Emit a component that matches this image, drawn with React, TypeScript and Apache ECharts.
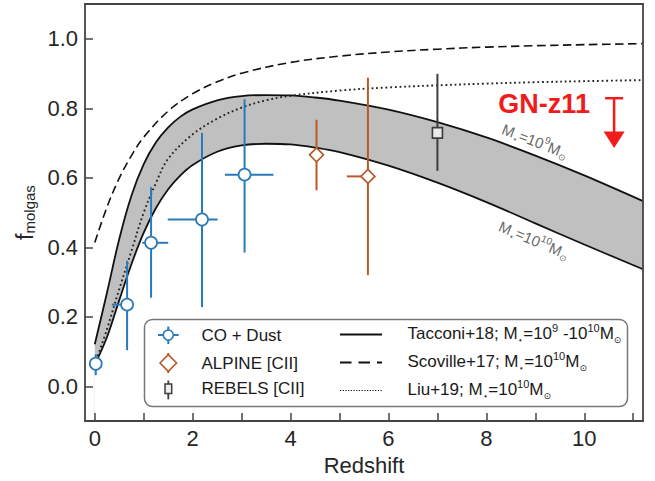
import React, { useEffect, useRef } from "react";
import * as echarts from "echarts";

// ---------- data ----------
const tacconiZ = [0, 0.25, 0.5, 0.75, 1, 1.25, 1.5, 1.75, 2, 2.5, 3, 3.5, 4, 4.5, 5, 6, 7, 8, 9, 10, 11.2];
const tacconiHigh = [0.121, 0.27, 0.424, 0.549, 0.639, 0.702, 0.745, 0.776, 0.797, 0.823, 0.835, 0.838, 0.837, 0.831, 0.822, 0.796, 0.76, 0.716, 0.664, 0.607, 0.533];
const tacconiLow = [0.062, 0.142, 0.248, 0.352, 0.442, 0.513, 0.567, 0.607, 0.637, 0.675, 0.693, 0.698, 0.696, 0.687, 0.674, 0.635, 0.586, 0.53, 0.469, 0.408, 0.337];

const scovilleZ = [0, 0.25, 0.5, 0.75, 1, 1.5, 2, 2.5, 3, 4, 5, 6, 7, 8, 9, 10, 11.2];
const scovilleF = [0.414, 0.516, 0.599, 0.664, 0.717, 0.792, 0.842, 0.876, 0.901, 0.932, 0.95, 0.962, 0.97, 0.976, 0.98, 0.983, 0.986];

const liuZ = [0.03, 0.25, 0.5, 0.75, 1, 1.25, 1.5, 2, 2.5, 3, 3.5, 4, 5, 6, 7, 8, 9, 10, 11.2];
const liuF = [0.075, 0.165, 0.28, 0.39, 0.5, 0.585, 0.655, 0.725, 0.77, 0.802, 0.823, 0.836, 0.851, 0.86, 0.866, 0.871, 0.875, 0.878, 0.881];

const coZ = [0.02, 0.66, 1.15, 2.19, 3.06];
const coF = [0.065, 0.235, 0.413, 0.48, 0.609];
const coZLo = [0.02, 0.35, 0.97, 1.49, 2.66];
const coZHi = [0.02, 0.75, 1.5, 2.51, 3.65];
const coFLo = [0.032, 0.104, 0.255, 0.228, 0.385];
const coFHi = [0.092, 0.361, 0.573, 0.729, 0.826];

const alpineZ = [4.53, 5.58];
const alpineF = [0.666, 0.604];
const alpineZLo = [4.53, 5.15];
const alpineZHi = [4.53, 5.7];
const alpineFLo = [0.564, 0.32];
const alpineFHi = [0.767, 0.888];

const rebelsZ = [7.0];
const rebelsF = [0.729];
const rebelsFLo = [0.62];
const rebelsFHi = [0.899];

// GN-z11 upper limit: [z, top of limit bar, arrow tip]
const gnz11 = [[10.61, 0.829, 0.686]];
const gnz11Label = [9.18, 0.813];

const xTickValues = [0, 1, 2, 3, 4, 5, 6, 7, 8, 9, 10, 11];
const xLabelValues = [0, 2, 4, 6, 8, 10];
const yTickValues = [0, 0.2, 0.4, 0.6, 0.8, 1.0];

// ---------- styles ----------
const FONT = '"Liberation Sans", Arial, Helvetica, sans-serif';
const BLUE = "#2a7ab9";
const ORANGE = "#b65a2b";
const GRAY = "#3d3d3d";
const RED = "#f01c1c";
const BAND = "#c0c0c0";
const FRAME = "#444444";

const pairs = (xs: number[], ys: number[]) => xs.map((x, i) => [x, ys[i]]);

function errorSeries(
  name: string, zs: number[], fs: number[], zlo: number[], zhi: number[],
  flo: number[], fhi: number[], color: string
) {
  return {
    type: "custom",
    name,
    z: 4,
    clip: true,
    silent: true,
    data: zs.map((z, i) => [z, fs[i], zlo[i], zhi[i], flo[i], fhi[i]]),
    encode: { x: [0, 2, 3], y: [1, 4, 5] },
    renderItem: (_p: any, api: any) => {
      const x = api.value(0);
      const y = api.value(1);
      const a = api.coord([x, api.value(4)]);
      const b = api.coord([x, api.value(5)]);
      const children: any[] = [
        { type: "line", shape: { x1: a[0], y1: a[1], x2: b[0], y2: b[1] }, style: { stroke: color, lineWidth: 2 } },
      ];
      if (api.value(3) > api.value(2)) {
        const c = api.coord([api.value(2), y]);
        const d = api.coord([api.value(3), y]);
        children.push({ type: "line", shape: { x1: c[0], y1: c[1], x2: d[0], y2: d[1] }, style: { stroke: color, lineWidth: 2 } });
      }
      return { type: "group", children };
    },
  };
}

const legendRich = {
  t: { fontSize: 17, fontFamily: FONT, fill: "#1a1a1a", lineHeight: 22 },
  p: { fontSize: 11, fontFamily: FONT, fill: "#1a1a1a", lineHeight: 11, verticalAlign: "top" },
  s: { fontSize: 9, fontFamily: "DejaVu Sans", fill: "#1a1a1a", lineHeight: 10, verticalAlign: "bottom" },
};
const curveRich = {
  m: { fontSize: 15, fontFamily: FONT, fill: "#6a6a6a", lineHeight: 20 },
  p: { fontSize: 10, fontFamily: FONT, fill: "#6a6a6a", lineHeight: 10, verticalAlign: "top" },
  s: { fontSize: 9, fontFamily: "DejaVu Sans", fill: "#6a6a6a", lineHeight: 9, verticalAlign: "bottom" },
};

const LZ = 100;
const legendElements: any[] = [
  { type: "rect", z: LZ, shape: { x: 144.5, y: 319.5, width: 483, height: 87, r: 8 }, style: { fill: "#ffffff", stroke: "#777777", lineWidth: 1.5 } },
  // CO + Dust
  { type: "line", z: LZ + 1, shape: { x1: 158, y1: 335, x2: 178.6, y2: 335 }, style: { stroke: BLUE, lineWidth: 2 } },
  { type: "line", z: LZ + 1, shape: { x1: 168.3, y1: 326.5, x2: 168.3, y2: 344 }, style: { stroke: BLUE, lineWidth: 2 } },
  { type: "circle", z: LZ + 2, shape: { cx: 168.3, cy: 335, r: 5 }, style: { fill: "#fff", stroke: BLUE, lineWidth: 1.6 } },
  // ALPINE
  { type: "line", z: LZ + 1, shape: { x1: 168.3, y1: 353, x2: 168.3, y2: 373 }, style: { stroke: ORANGE, lineWidth: 2 } },
  { type: "polygon", z: LZ + 2, shape: { points: [[160, 363], [168.3, 354.7], [176.6, 363], [168.3, 371.3]] }, style: { fill: "#fff", stroke: ORANGE, lineWidth: 1.6 } },
  // REBELS
  { type: "line", z: LZ + 1, shape: { x1: 168.3, y1: 380.5, x2: 168.3, y2: 399.3 }, style: { stroke: GRAY, lineWidth: 1.8 } },
  { type: "rect", z: LZ + 2, shape: { x: 165, y: 384, width: 6.7, height: 9.5 }, style: { fill: "#eeeeee", stroke: GRAY, lineWidth: 1.5 } },
  // texts left
  { type: "text", z: LZ + 1, x: 201.5, y: 335, style: { text: "CO + Dust", fontSize: 17, fontFamily: FONT, fill: "#1a1a1a", verticalAlign: "middle" } },
  { type: "text", z: LZ + 1, x: 201.5, y: 363, style: { text: "ALPINE [CII]", fontSize: 17, fontFamily: FONT, fill: "#1a1a1a", verticalAlign: "middle" } },
  { type: "text", z: LZ + 1, x: 201.5, y: 388.5, style: { text: "REBELS [CII]", fontSize: 17, fontFamily: FONT, fill: "#1a1a1a", verticalAlign: "middle" } },
  // line samples
  { type: "line", z: LZ + 1, shape: { x1: 340, y1: 334.5, x2: 382, y2: 334.5 }, style: { stroke: "#111", lineWidth: 1.8 } },
  { type: "line", z: LZ + 1, shape: { x1: 340, y1: 362.5, x2: 382, y2: 362.5 }, style: { stroke: "#111", lineWidth: 1.8, lineDash: [11.5, 7] } },
  { type: "line", z: LZ + 1, shape: { x1: 340, y1: 390.5, x2: 382, y2: 390.5 }, style: { stroke: "#111", lineWidth: 1.2, lineDash: [1.2, 1.5] } },
  // texts right
  { type: "text", z: LZ + 1, x: 407.5, y: 333.5, style: { text: "{t|Tacconi+18; M}{s|⋆}{t|=10}{p|9}{t| -10}{p|10}{t|M}{s|⊙}", rich: legendRich, verticalAlign: "middle" } },
  { type: "text", z: LZ + 1, x: 407.5, y: 361, style: { text: "{t|Scoville+17; M}{s|⋆}{t|=10}{p|10}{t|M}{s|⊙}", rich: legendRich, verticalAlign: "middle" } },
  { type: "text", z: LZ + 1, x: 407.5, y: 389.5, style: { text: "{t|Liu+19; M}{s|⋆}{t|=10}{p|10}{t|M}{s|⊙}", rich: legendRich, verticalAlign: "middle" } },
];

const curveLabels = [
  { type: "text", x: 535, y: 141, rotation: -0.37, z: 50, style: { text: "{m|M}{s|⋆}{m|=10}{p|9}{m|M}{s|⊙}", rich: curveRich, align: "center", verticalAlign: "middle" } },
  { type: "text", x: 534, y: 240, rotation: -0.4, z: 50, style: { text: "{m|M}{s|⋆}{m|=10}{p|10}{m|M}{s|⊙}", rich: curveRich, align: "center", verticalAlign: "middle" } },
];

const axisCommon = {
  type: "value",
  splitLine: { show: false },
  axisLine: { show: true, onZero: false, lineStyle: { color: FRAME, width: 1.8 } },
  z: 10,
};

const option: any = {
  animation: false,
  backgroundColor: "#ffffff",
  grid: { left: 85, right: 12, top: 4, bottom: 57, containLabel: false },
  xAxis: [
    {
      ...axisCommon,
      min: -0.2,
      max: 11.2,
      position: "bottom",
      axisTick: { show: true, inside: true, length: 8, customValues: xTickValues, lineStyle: { color: FRAME, width: 1.5 } },
      axisLabel: { customValues: xLabelValues, fontSize: 22, fontFamily: FONT, color: "#262626", margin: 6 },
      name: "Redshift",
      nameLocation: "middle",
      nameGap: 31,
      nameTextStyle: { fontSize: 22, fontFamily: FONT, color: "#262626" },
    },
    {
      ...axisCommon,
      min: -0.2,
      max: 11.2,
      position: "top",
      axisTick: { show: false },
      axisLabel: { show: false },
    },
  ],
  yAxis: [
    {
      ...axisCommon,
      min: -0.1,
      max: 1.1,
      position: "left",
      axisTick: { show: true, inside: true, length: 8, customValues: yTickValues, lineStyle: { color: FRAME, width: 1.5 } },
      axisLabel: {
        customValues: yTickValues, fontSize: 22, fontFamily: FONT, color: "#262626", margin: 7,
        formatter: (v: number) => v.toFixed(1),
      },
      name: "{f|f}{s|molgas}",
      nameLocation: "middle",
      nameRotate: 90,
      nameGap: 46,
      nameTextStyle: {
        rich: {
          f: { fontSize: 23, fontFamily: FONT, color: "#262626", lineHeight: 24, verticalAlign: "bottom" },
          s: { fontSize: 15, fontFamily: FONT, color: "#262626", lineHeight: 12, verticalAlign: "bottom" },
        },
      },
    },
    {
      ...axisCommon,
      min: -0.1,
      max: 1.1,
      position: "right",
      axisTick: { show: false },
      axisLabel: { show: false },
    },
  ],
  graphic: [...legendElements, ...curveLabels],
  series: [
    {
      type: "line", name: "Tacconi+18 (M*=1e9)", data: pairs(tacconiZ, tacconiHigh),
      symbol: "none", smooth: 0.35, silent: true, z: 1,
      lineStyle: { color: "#111", width: 1.8 },
      areaStyle: { color: BAND, opacity: 1, origin: "start" },
    },
    {
      type: "line", name: "Tacconi+18 (M*=1e10)", data: pairs(tacconiZ, tacconiLow),
      symbol: "none", smooth: 0.35, silent: true, z: 2,
      lineStyle: { color: "#111", width: 1.8 },
      areaStyle: { color: "#ffffff", opacity: 1, origin: "start" },
    },
    {
      type: "line", name: "Scoville+17", data: pairs(scovilleZ, scovilleF), symbol: "none", smooth: 0.35, silent: true, z: 3,
      lineStyle: { color: "#111", width: 1.6, type: [8.5, 4.5] },
    },
    {
      type: "line", name: "Liu+19", data: pairs(liuZ, liuF), symbol: "none", smooth: 0.35, silent: true, z: 3,
      lineStyle: { color: "#222", width: 1.9, type: [1.8, 2.8] },
    },
    errorSeries("CO + Dust err", coZ, coF, coZLo, coZHi, coFLo, coFHi, BLUE),
    errorSeries("ALPINE err", alpineZ, alpineF, alpineZLo, alpineZHi, alpineFLo, alpineFHi, ORANGE),
    errorSeries("REBELS err", rebelsZ, rebelsF, rebelsZ, rebelsZ, rebelsFLo, rebelsFHi, GRAY),
    {
      type: "scatter", name: "CO + Dust", data: pairs(coZ, coF), symbol: "circle", symbolSize: 12, silent: true, z: 5,
      itemStyle: { color: "#ffffff", borderColor: BLUE, borderWidth: 1.7, opacity: 1 },
    },
    {
      type: "scatter", name: "ALPINE [CII]", data: pairs(alpineZ, alpineF), symbol: "diamond", symbolSize: [14, 14], silent: true, z: 5,
      itemStyle: { color: "#ffffff", borderColor: ORANGE, borderWidth: 1.7, opacity: 1 },
    },
    {
      type: "scatter", name: "REBELS [CII]", data: pairs(rebelsZ, rebelsF), symbol: "rect", symbolSize: [10, 10.5], silent: true, z: 5,
      itemStyle: { color: "#ebebeb", borderColor: GRAY, borderWidth: 1.7, opacity: 1 },
    },
    {
      type: "custom", name: "GN-z11", z: 6, silent: true, clip: false,
      data: gnz11,
      encode: { x: 0, y: [1, 2] },
      renderItem: (_p: any, api: any) => {
        const x = api.value(0);
        const top = api.coord([x, api.value(1)]);
        const tip = api.coord([x, api.value(2)]);
        const lab = api.coord(gnz11Label);
        const headH = 16.5;
        const headW = 10.5;
        return {
          type: "group",
          children: [
            { type: "line", shape: { x1: top[0] - 9, y1: top[1], x2: top[0] + 9, y2: top[1] }, style: { stroke: RED, lineWidth: 2.5 } },
            { type: "line", shape: { x1: top[0], y1: top[1], x2: tip[0], y2: tip[1] - headH + 1 }, style: { stroke: RED, lineWidth: 2.5 } },
            { type: "polygon", shape: { points: [[tip[0] - headW, tip[1] - headH], [tip[0] + headW, tip[1] - headH], [tip[0], tip[1]]] }, style: { fill: RED } },
            {
              type: "text", x: lab[0], y: lab[1],
              style: { text: "GN-z11", fill: RED, fontSize: 27, fontWeight: "bold", fontFamily: FONT, align: "center", verticalAlign: "middle" },
            },
          ],
        };
      },
    },
  ],
};

export default function App() {
  const ref = useRef<HTMLDivElement>(null);
  useEffect(() => {
    if (!ref.current) return;
    const chart = echarts.init(ref.current, null, { renderer: "svg" });
    chart.setOption(option);
    return () => chart.dispose();
  }, []);
  return <div ref={ref} style={{ position: "fixed", left: 0, top: 0, width: 655, height: 481 }} />;
}
